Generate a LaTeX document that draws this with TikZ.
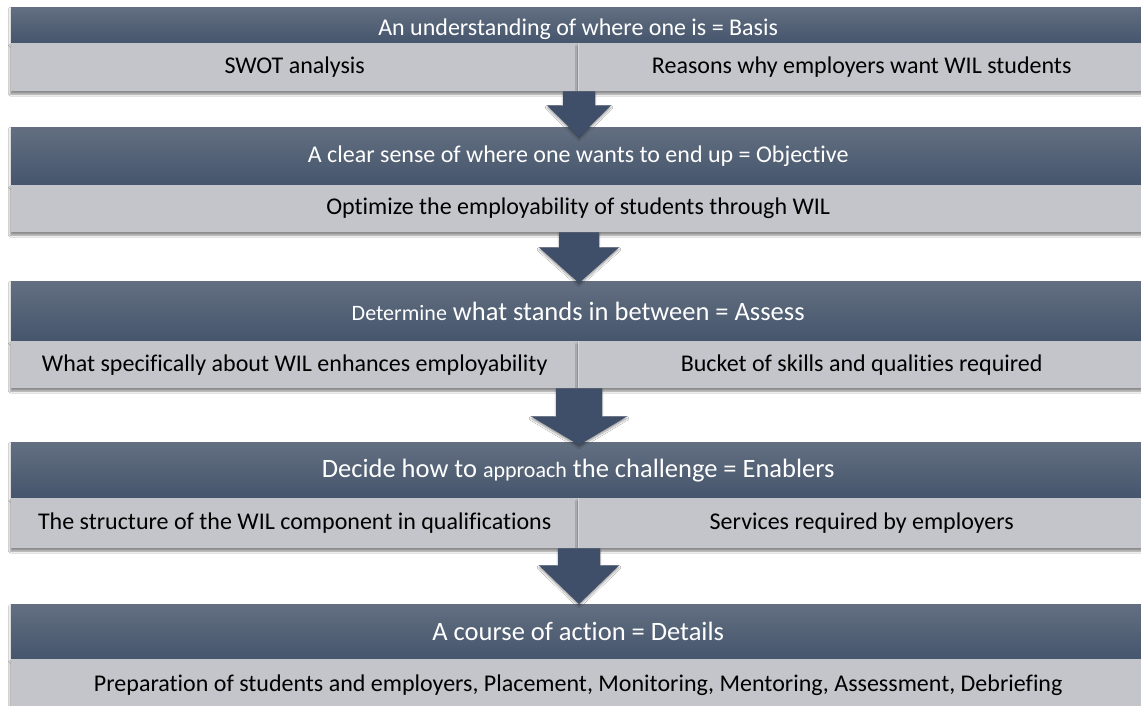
\documentclass[tikz,border=0pt]{standalone}
\usepackage{fontspec}
\setmainfont[Ligatures=NoCommon]{Carlito}
\usetikzlibrary{calc,shadows.blur}
\definecolor{hdtop}{HTML}{636F81}
\definecolor{hdbot}{HTML}{45556C}
\definecolor{rowfill}{HTML}{C3C5CA}
\definecolor{arrowc}{HTML}{3F4F69}
\definecolor{sepc}{HTML}{D6D8DC}
\newcommand\blockarr[6]{%
  \fill[arrowfill] ([xshift=-#3pt]ax |- #1.south) -- ([xshift=#3pt]ax |- #1.south)
    -- ([xshift=#3pt,yshift=-#5pt]ax |- #1.south) -- ([xshift=#4pt,yshift=-#5pt]ax |- #1.south)
    -- ([yshift=-#6pt]ax |- #2.north)
    -- ([xshift=-#4pt,yshift=-#5pt]ax |- #1.south) -- ([xshift=-#3pt,yshift=-#5pt]ax |- #1.south) -- cycle;}
\tikzset{
  hdr/.style={draw=none, top color=hdtop, bottom color=hdbot, minimum width=1134pt,
    anchor=north west, inner sep=0pt, text=white, font=\fontsize{24}{28}\selectfont,
    blur shadow={shadow xshift=-1pt, shadow yshift=-2pt, shadow opacity=25, shadow blur steps=6}},
  cell/.style={draw=none, fill=rowfill, anchor=north west, inner sep=0pt, text=black,
    font=\fontsize{24}{28}\selectfont,
    blur shadow={shadow xshift=-1pt, shadow yshift=-3pt, shadow opacity=45, shadow blur steps=6}},
  half/.style={cell, minimum width=567pt},
  full/.style={cell, minimum width=1134pt},
  sepline/.style={draw=sepc, line width=1pt},
  arrowfill/.style={fill=arrowc, blur shadow={shadow xshift=0pt, shadow yshift=-2pt, shadow opacity=40, shadow blur steps=5}},
  big/.style={font=\fontsize{26.5}{30}\selectfont}
}
\begin{document}
\begin{tikzpicture}[x=1pt,y=-1pt]
\useasboundingbox (0,0) rectangle (1141,706);
\clip (0,0) rectangle (1141,706);
\fill[white] (0,0) rectangle (1141,706);
\coordinate (ax) at (579,0);
% band 1
\node[hdr, minimum height=36pt] (h1) at (11,7) {\raisebox{-10pt}[0pt][0pt]{An understanding of where one is = Basis}};
\node[half, minimum height=48pt] (r1a) at (11,43) {SWOT analysis};
\node[half, minimum height=48pt] (r1b) at (578,43) {Reasons why employers want WIL students};
\draw[sepline] (r1a.north east) -- (r1a.south east);
% band 2
\node[hdr, minimum height=58pt] (h2) at (11,127) {A clear sense of where one wants to end up = Objective};
\node[full, minimum height=47pt] (r2) at (11,185) {Optimize the employability of students through WIL};
% band 3
\node[hdr, big, minimum height=60pt] (h3) at (11,281) {{\fontsize{22}{26}\selectfont Determine} what stands in between = Assess};
\node[half, minimum height=47pt] (r3a) at (11,341) {What specifically about WIL enhances employability};
\node[half, minimum height=47pt] (r3b) at (578,341) {Bucket of skills and qualities required};
\draw[sepline] (r3a.north east) -- (r3a.south east);
% band 4
\node[hdr, big, minimum height=56pt] (h4) at (11,442) {Decide how to {\fontsize{22}{26}\selectfont approach} the challenge = Enablers};
\node[half, minimum height=50pt] (r4a) at (11,498) {The structure of the WIL component in qualifications};
\node[half, minimum height=50pt] (r4b) at (578,498) {Services required by employers};
\draw[sepline] (r4a.north east) -- (r4a.south east);
% band 5
\node[hdr, big, minimum height=55pt] (h5) at (11,604) {A course of action = Details};
\node[full, minimum height=52pt] (r5) at (11,659) {Preparation of students and employers, Placement, Monitoring, Mentoring, Assessment, Debriefing};
% arrows
\blockarr{r1a}{h2}{16}{32}{14}{10}
\blockarr{r2}{h3}{20}{40}{15}{2}
\blockarr{r3a}{h4}{23}{48}{28}{3}
\blockarr{r4a}{h5}{21}{40}{17}{0}
\end{tikzpicture}
\end{document}
